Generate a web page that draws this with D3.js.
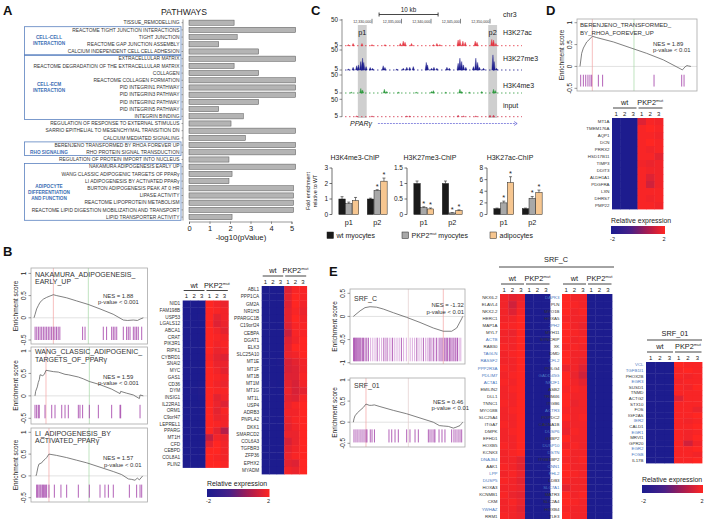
<!DOCTYPE html>
<html><head><meta charset="utf-8">
<script src="https://cdn.jsdelivr.net/npm/d3@7/dist/d3.min.js"></script>
<style>
html,body{margin:0;padding:0;background:#fff;}
svg{display:block;font-family:"Liberation Sans",Arial,Helvetica,sans-serif;}
</style></head><body>
<svg id="fig" width="709" height="519"></svg>
<script>
// ================= DATA =================
// Panel A
const pathways = ["TISSUE_REMODELLING","REACTOME TIGHT JUNCTION INTERACTIONS","TIGHT JUNCTION","REACTOME GAP JUNCTION ASSEMBLY","CALCIUM INDEPENDENT CELL CELL ADHESION","EXTRACELLULAR MATRIX","REACTOME DEGRADATION OF THE EXTRACELLULAR MATRIX","COLLAGEN","REACTOME COLLAGEN FORMATION","PID INTEGRIN1 PATHWAY","PID INTEGRIN3 PATHWAY","PID INTEGRIN2 PATHWAY","PID INTEGRIN5 PATHWAY","INTEGRIN BINDING","REGULATION OF RESPONSE TO EXTERNAL STIMULUS","SARRIO EPITHELIAL TO MESENCHYMAL TRANSITION DN","CALCIUM MEDIATED SIGNALING","BERENJENO TRANSFORMED BY RHOA FOREVER UP","RHO PROTEIN SIGNAL TRANSDUCTION","REGULATION OF PROTEIN IMPORT INTO NUCLEUS","NAKAMURA ADIPOGENESIS EARLY UP","WANG CLASSIC ADIPOGENIC TARGETS OF PPARγ","LI ADIPOGENESIS BY ACTIVATED PPARγ","BURTON ADIPOGENESIS PEAK AT 0 HR","LIPASE ACTIVITY","REACTOME LIPOPROTEIN METABOLISM","REACTOME LIPID DIGESTION MOBILIZATION AND TRANSPORT","LIPID TRANSPORTER ACTIVITY"];
const pathwayLogP = [2.2,5.2,2.35,1.45,3.4,5.2,2.2,3.4,5.2,5.2,5.2,3.4,1.45,2.65,2.05,5.2,2.75,5.2,5.2,1.95,5.2,2.1,1.95,5.1,5.1,5.1,5.1,2.1];
const pathwayGroups = [
  {first:1,last:4,lines:["CELL-CELL","INTERACTION"]},
  {first:5,last:13,lines:["CELL-ECM","INTERACTION"]},
  {first:17,last:18,lines:["RHO SIGNALING"],labelRow:18},
  {first:20,last:27,lines:["ADIPOCYTE","DIFFERENTIATION","AND FUNCTION"]}
];
const pathwayTicks = [0,1,2,3,4,5];

// Panel B GSEA
const nakES = [[0,0],[1,0.08],[2.4,0.2],[4,0.28],[5.5,0.35],[8.5,0.42],[11.5,0.46],[14.5,0.49],[17.6,0.52],[20.6,0.5],[29.7,0.45],[38.8,0.38],[49.4,0.3],[60,0.2],[72,0.08],[81.2,-0.05],[85,-0.06],[90.3,-0.05],[94,-0.06],[96.4,-0.03],[99.4,0]];
const nakHits = [1,2.5,4,5.5,7,8.5,10,11.5,13,14.5,16,17.5,19,20.5,22,23.5,44.2,46.4,63,66,70.6,72.1,73.6,75.2,81.2,84.2,85.7,87.3,90.3,91.8,93.3,94.8,97.9];
const wangES = [[0.9,0],[1.5,0.1],[3,0.2],[3.9,0.3],[4.8,0.36],[5.5,0.47],[7.9,0.45],[9.4,0.48],[10.9,0.57],[17.6,0.54],[22.1,0.53],[28.2,0.48],[31.2,0.47],[40.3,0.42],[44.8,0.38],[50.3,0.32],[60,0.25],[70.6,0.15],[78.2,0.05],[78.8,0.1],[84.2,0.06],[90.3,0.02],[95.8,-0.06],[96.4,0.02],[99.4,0]];
const wangHits = [0.9,2.4,3.9,4.8,10,16.1,19.1,25.2,28.2,31.2,40.3,41.8,44.2,50.3,58.5,70.6,78.2,78.8,96.4];
const liES = [[1.8,0],[2.4,0.05],[3.6,0.2],[4.5,0.27],[7,0.3],[8.5,0.35],[10,0.38],[11.5,0.42],[13.6,0.5],[20.6,0.47],[29.7,0.42],[38.8,0.36],[47.9,0.3],[60,0.2],[72.1,0.1],[79.7,0.03],[85.8,-0.07],[88.8,-0.08],[91.8,-0.1],[93.9,-0.05],[95.8,-0.09],[98.8,0]];
const liHits = [2.4,3.3,4.5,5.5,6.4,7.6,8.5,9.4,10.6,11.5,13.6,18.5,24.5,29.7,40.3,50.3,60,64.5,67.6,72.1,86.7,93.3,96.4,97.9];

// Panel B heatmaps
const b1Genes = ["NID1","FAM198B","USP53","LGALS12","ABCA1","CRAT","PIK3R1","RIPK1","CYBRD1","SNAI2","MYC","GAS1","CD36","DYM","INSIG1","IL22RA1","ORM1","C9orf47","LEPREL1","PPARG","MT1H","CFD","CEBPD","COL8A1","PLIN2"];
const b1Values = [
[-1.95,-1.95,-1.95,2,1.8,1.7],[-1.95,-1.95,-1.95,2,1.9,1.8],[-1.95,-1.95,-1.9,2,1.6,1.8],[-1.95,-1.95,-1.95,2,1.5,1.7],[-1.95,-1.95,-1.95,2,1.8,1.6],
[-1.95,-1.95,-1.95,2,1.9,1.8],[-1.95,-1.95,-1.95,2,1.8,1.9],[-1.95,-1.95,-1.95,2,1.7,1.8],[-1.95,-1.95,-1.95,1.9,1.6,1.5],[-1.95,-1.95,-1.95,2,1.7,1.7],
[-1.95,-1.95,-1.95,2,1.8,1.6],[-1.95,-1.95,-1.95,2,1.9,1.8],[-1.95,-1.95,-1.9,2,1.8,1.7],[-1.95,-1.9,-1.8,2,1.9,1.9],[-1.95,-1.95,-1.85,2,1.6,1.8],
[-1.95,-1.95,-1.95,2,1.7,1.5],[-1.95,-1.95,-1.95,2,1.6,1.9],[-1.95,-1.95,-1.95,2,1.7,1.8],[-1.95,-1.95,-1.95,2,1.9,1.8],[-1.95,-1.95,-1.95,2,1.6,0.9],
[-1.95,-1.95,-1.95,1.1,1.8,1.7],[-1.95,-1.95,-1.95,1.6,2,1.8],[-1.95,-1.95,-1.95,2,2,1.8],[-1.95,-1.95,-1.95,2,1.9,1.8],[-1.95,-1.95,-1.95,2,2,1.9]];
const b2Genes = ["ABL1","PPP1CA","GM2A","NR1H3","PPARGC1B","C19orf24","CEBPA","DGAT1","ELK3","SLC25A10","MT1E","MT1F","MT1B","MT1M","MT1G","MT1L","USP4","ADRB3","PNPLA2","DKK1","SMARCD2","COL6A3","TGFBR3","ZFP36","EPHX2","MYADM"];
const b2Values = [
[-1.95,-1.95,-1.95,1.5,1.9,1.9],[-1.95,-1.95,-1.95,1.6,2,1.9],[-1.95,-1.95,-1.95,1.5,2,1.8],[-1.95,-1.95,-1.95,1.6,1.9,1.7],[-1.95,-1.95,-1.95,1.6,2,1.8],
[-1.95,-1.95,-1.95,1.5,1.9,1.9],[-1.95,-1.95,-1.95,1.2,1.9,1.9],[-1.95,-1.95,-1.95,1.5,1.8,2],[-1.95,-1.95,-1.95,1.6,2,2],[-1.95,-1.95,-1.95,1.7,1.8,2],
[-1.95,-1.95,-1.9,1.4,1.6,1.8],[-1.95,-1.95,-1.95,1.4,1.5,1.8],[-1.95,-1.95,-1.95,1.5,1.5,1.9],[-1.95,-1.9,-1.95,1.6,1.4,1.8],[-1.95,-1.95,-1.95,1.7,1.4,1.6],
[-1.95,-1.95,-1.95,1.6,1.5,1.9],[-1.95,-1.95,-1.95,1.7,1.9,2],[-1.95,-1.95,-1.95,1.8,1.8,2],[-1.95,-1.95,-1.95,1.7,1.9,2],[-1.95,-1.95,-1.95,1.6,1.8,2],
[-1.95,-1.95,-1.95,1.7,1.7,2],[-1.95,-1.95,-1.95,1.4,1.7,2],[-1.95,-1.95,-1.95,1.6,1.8,2],[-1.95,-1.95,-1.95,1.7,1.9,2],[-1.95,-1.95,-1.95,1.6,1.5,2],[-1.95,-1.95,-1.95,1.8,1.7,2]];

// Panel C tracks  ([position kb on chr3, signal])
const trackNames = ["H3K27ac","H3K27me3","H3K4me3","input"];
const rulerKb = [12330,12335,12340,12345,12350];
const k27acSignal = [[12326.0,7],[12326.8,9],[12328.3,9],[12330.0,7],[12332.2,7],[12334.8,9],[12335.3,13],[12335.6,11],[12336.7,9],[12340.4,7],[12341.0,9],[12341.5,7],[12344.6,15],[12344.9,16],[12345.4,13],[12345.8,11],[12347.5,13],[12347.8,11],[12350.3,16],[12350.6,15],[12351.0,9]];
const k27me3Signal = [[12326.0,7],[12326.8,11],[12327.4,14.5],[12327.7,16.4],[12328.1,24],[12328.4,31.6],[12328.6,22],[12329.0,12.6],[12329.7,10.7],[12330.1,8.8],[12331.9,14.5],[12332.2,10.7],[12334.2,7],[12335.3,9],[12335.9,11],[12336.4,11],[12337.0,12.6],[12339.2,22],[12339.4,16.4],[12340.1,9],[12340.5,11],[12341.0,9],[12342.7,11],[12343.1,9],[12344.6,20],[12344.9,31.6],[12345.2,24],[12345.5,16.4],[12345.9,11],[12347.2,12.6],[12347.6,31.6],[12347.9,22],[12348.2,11],[12348.9,9],[12350.5,39],[12350.7,24],[12351.1,9]];
const k4me3Signal = [[12326.5,7],[12328.1,16.4],[12328.4,12.6],[12332.1,14.5],[12332.5,9],[12334.5,7],[12337.5,7],[12340.1,9],[12340.4,11],[12342.5,7],[12344.9,14.5],[12345.2,9],[12346.5,7],[12348.6,9],[12350.6,14.5],[12350.9,11]];
const inputSignal = [[12327.4,7],[12330.0,7],[12335.9,7],[12336.4,7],[12344.6,9],[12345.5,7],[12347.6,7],[12350.0,9],[12350.6,9]];
const peakRegions = [{name:"p1",from:12327.6,to:12329.1},{name:"p2",from:12349.7,to:12351.2}];
const geneStartKb = 12331.0, geneEndKb = 12354.6;

// Panel C bar charts
const chipSites = ["p1","p2"];
const cellTypes = ["wt myocytes","PKP2mut myocytes","adipocytes"];
const chipTitles = ["H3K4me3-ChIP","H3K27me3-ChIP","H3K27ac-ChIP"];
const chipMeans = [ [[1.0,0.7,0.9],[1.0,1.55,2.15]], [[1.0,0.22,0.18],[1.0,0.05,0.13]], [[1.0,2.0,5.5],[1.0,2.8,3.8]] ];
const chipErrs  = [ [[0.15,0.1,0.2],[0.05,0.05,0.2]], [[0.08,0.03,0.03],[0.08,0.01,0.02]], [[0.1,0.3,1.0],[0.1,0.3,0.4]] ];
const chipStars = [ [[0,0,0],[0,1,1]], [[0,1,1],[0,1,1]], [[0,1,1],[0,1,1]] ];
const chipTicks = [[0,1,2,3],[0,0.5,1,1.5],[0,2,4,6,8]];

// Panel D
const berES = [[0,0],[1.5,0.3],[3,0.42],[6,0.56],[8.9,0.63],[11,0.69],[14.9,0.66],[29.8,0.56],[44.6,0.43],[59.5,0.3],[74.4,0.15],[89.3,-0.05],[91.4,-0.08],[93.8,-0.01],[95.5,0.02],[97,0.01],[99,0]];
const berHits = [0.6,3,5.1,7.1,8.9,10.4,16.4,20.2,66.1,90.8,92.9];
const dGenes = ["MT1A","TMEM176A","AQP1","DCN","PRRX2","HSD17B11","TIMP3","DDIT3","ALDH1A1","PDGFRA","LXN","DHRS7","PMP22"];
const dValues = [
[-1.95,-1.95,-1.95,1.5,1.9,1.8],[-1.95,-1.95,-1.95,1.9,2,1.9],[-1.95,-1.95,-1.95,1.9,1.9,1.8],[-1.95,-1.95,-1.95,1.9,2,1.9],[-1.95,-1.95,-1.95,1.9,1.8,1.9],
[-1.95,-1.95,-1.95,1.9,1.9,1.6],[-1.95,-1.95,-1.95,1.8,1.7,1.8],[-1.95,-1.95,-1.95,1.9,1.8,1.8],[-1.95,-1.95,-1.95,1.9,1.5,1.8],[-1.95,-1.95,-1.95,1.9,1.3,1.8],
[-1.95,-1.95,-1.95,1.9,1.9,1.9],[-1.95,-1.95,-1.95,1.9,1.8,1.9],[-1.95,-1.95,-1.95,1.9,1.9,1.8]];

// Panel E
const srfcES = [[0.3,0],[6.4,0.12],[10.9,0.19],[15.5,0.21],[21.5,0.2],[27.5,0.16],[36.7,0.08],[48.8,-0.02],[60.9,-0.13],[73,-0.25],[82.1,-0.32],[89.7,-0.32],[94.3,-0.25],[98.8,-0.05],[99.7,0]];
const srfcHits = [0.5,1.3,2,2.8,3.6,4.5,5.4,6.3,7.2,8.5,9.5,11,12.5,14,22,28,31,36,44,58,64,70,73,76,79,81,83,84.5,86,87.5,89,91,93,95];
const srfcLightHits = [16,18,20,24,26,29.5,33,34.5,38,40,42,46,48.5,52,54,56,60,62,66,67.5,69,71.5,74.5,77.5,80,85,88,90,92,94,96.5,98];
const srf01ES = [[0.3,0],[0.9,0.08],[1.8,0.15],[3.9,0.22],[6.4,0.28],[9.4,0.35],[11.8,0.43],[14.8,0.4],[17,0.4],[19.4,0.41],[24.5,0.37],[36.7,0.28],[48.8,0.2],[60.9,0.1],[73,0],[78.5,-0.08],[82.1,-0.09],[86.7,-0.1],[91.2,-0.14],[93.6,-0.12],[97.3,-0.08],[98.8,-0.03],[99.7,0]];
const srf01Hits = [0.9,2.7,4.5,6.4,8.2,10,11.8,12.7,15.7,17.3,19.5,32.7,35.2,38.2,41.2,48.8,51.8,56.4,59.4,68.5,70,71.8,73.6,74.5,78.2,80.9,83.6,89.7,91.8,93.6,95.5,97.3,98.8];
const e1Genes = ["NKX6-2","ELAVL4","NKX2-2","HERC1","MAP1A","MYL7","ACTB","RAB30","TAGLN","RASSF2","PPP2R3A","PDLIM7","ACTA1","EMILIN2","DLL1","TNNC1","MYO18B","SLC25A4","ITGA7","DMPK","EFHD1","HOXB5","KCNK3","DNAJB4","AAK1","LPP","DUSP5","HOXA3","KCNMB1","CKM","YWHAZ","RRM1"];
const e1Blue = ["ACTB","TAGLN","RASSF2","PPP2R3A","PDLIM7","ACTA1","DNAJB4","LPP","DUSP5","YWHAZ"];
const e1Values = [
[1.8,1.6,1.7,-1.95,-1.95,-1.95],[1.8,1.3,1.8,-1.95,-1.95,-1.95],[1.8,1.5,1.9,-1.95,-1.95,-1.95],[1.8,1.8,2,-1.95,-1.95,-1.95],[1.9,1.9,2,-1.95,-1.95,-1.95],
[1.8,1.7,2,-1.95,-1.95,-1.95],[1.8,1.8,2,-1.95,-1.95,-1.95],[1.9,1.8,2,-1.95,-1.95,-1.95],[1.8,1.9,2,-1.95,-1.95,-1.95],[1.8,1.8,2,-1.95,-1.95,-1.95],
[1.9,1.8,2,-1.95,-1.95,-1.95],[1.8,1.9,2,-1.95,-1.95,-1.95],[1.9,1.8,2,-1.95,-1.95,-1.95],[1.8,1.9,2,-1.95,-1.95,-1.95],[1.8,1.8,2,-1.95,-1.95,-1.95],
[1.9,1.8,2,-1.95,-1.95,-1.95],[1.8,1.9,2,-1.95,-1.95,-1.95],[1.8,1.8,2,-1.95,-1.95,-1.95],[1.9,1.8,2,-1.95,-1.95,-1.95],[1.8,1.9,2,-1.95,-1.95,-1.95],
[1.8,1.8,2,-1.95,-1.95,-1.95],[1.9,1.8,2,-1.95,-1.95,-1.95],[1.8,1.9,2,-1.95,-1.95,-1.95],[1.8,1.8,1.6,-1.95,-1.95,-1.95],[1.9,1.8,1.6,-1.95,-1.95,-1.95],
[1.8,1.9,1.7,-1.95,-1.95,-1.95],[1.9,1.8,1.6,-1.95,-1.95,-1.95],[1.8,1.8,1.7,-1.95,-1.95,-1.95],[1.9,1.7,1.6,-1.95,-1.95,-1.95],[1.8,1.9,1.7,-1.95,-1.95,-1.95],
[1.8,1.8,1.6,-1.95,-1.95,-1.95],[1.9,1.8,1.7,-1.95,-1.95,-1.95]];
const e2Genes = ["DAPK3","PLN","MYO1B","HOXA5","JPH2","MYH11","SYNCRIP","XK","DMD","CFL2","POLG4","GADD45G","NR2F1","ASB2","TRIM46","ITGB6","ACTR3","POPDC2","CACNA1B","DUSP6","G3BP2","DUSP10","DSTN","ITGB1BP2","CNN1","FHL2","LDB3","SLC7A1","MATR3","SLC2A4","HOXB4","TLE3"];
const e2Blue = ["DAPK3","JPH2","CFL2","GADD45G","NR2F1","ACTR3","DUSP6","DUSP10","DSTN","CNN1","FHL2","SLC7A1"];
const e2Values = [
[2,1.8,1.8,-1.95,-1.95,-1.95],[2,1.9,1.8,-1.95,-1.95,-1.95],[2,1.8,1.9,-1.95,-1.95,-1.95],[1.9,1.8,1.8,-1.95,-1.95,-1.95],[2,1.8,1.7,-1.95,-1.95,-1.95],
[2,1.9,1.8,-1.95,-1.95,-1.95],[2,1.8,1.9,-1.95,-1.95,-1.95],[1.9,1.9,1.8,-1.95,-1.95,-1.95],[2,1.8,1.8,-1.95,-1.95,-1.95],[2,1.8,1.7,-1.95,-1.95,-1.95],
[1.7,1.8,1.5,-1.95,-1.95,-1.95],[2,1.7,1.3,-1.95,-1.95,-1.95],[2,1.8,1.6,-1.95,-1.95,-1.95],[1.9,1.9,1.8,-1.95,-1.95,-1.95],[2,1.8,1.8,-1.95,-1.95,-1.95],
[2,1.7,1.8,-1.95,-1.95,-1.95],[1.9,1.8,1.8,-1.95,-1.95,-1.95],[2,1.8,1.9,-1.95,-1.95,-1.95],[1.8,1.8,1.8,-1.95,-1.95,-1.95],[1.7,1.9,1.8,-1.95,-1.95,-1.95],
[2,1.8,1.8,-1.95,-1.95,-1.95],[1.8,1.9,1.8,-1.95,-1.95,-1.95],[2,1.8,1.8,-1.95,-1.95,-1.95],[1.9,1.8,1.9,-1.95,-1.95,-1.95],[2,1.8,1.8,-1.95,-1.95,-1.95],
[2,1.9,1.8,-1.95,-1.95,-1.95],[1.9,1.8,1.8,-1.95,-1.95,-1.95],[1.6,1.8,1.8,-1.95,-1.95,-1.95],[2,1.8,1.9,-1.95,-1.95,-1.95],[2,1.9,1.8,-1.95,-1.95,-1.95],
[1.9,1.8,1.8,-1.95,-1.95,-1.95],[2,1.8,1.8,-1.95,-1.95,-1.95]];
const e3Genes = ["VCL","TGFB1I1","PHOX2B","EGR3","SUSD1","TNMD","ACTG2","STX10","FOS","IGF2AS","IER2","CALD1","EGR1","MRVI1","GPR20","EGR2","FOSB","IL17B"];
const e3Blue = ["VCL","TGFB1I1","EGR3","IER2","EGR1","EGR2","FOSB"];
const e3Values = [
[-1.95,-1.95,-1.95,2,1.9,1.9],[-1.95,-1.95,-1.95,1.9,2,1.9],[-1.95,-1.95,-1.95,1.9,1.8,1.9],[-1.95,-1.95,-1.95,1.8,1.9,1.9],[-1.95,-1.95,-1.95,1.9,1.8,2],
[-1.95,-1.95,-1.95,1.9,1.9,1.9],[-1.95,-1.95,-1.95,1.5,1.9,1.9],[-1.95,-1.95,-1.95,1.9,1.9,1.9],[-1.95,-1.95,-1.95,1.9,1.9,1.7],[-1.95,-1.95,-1.95,1.9,1.9,2],
[-1.95,-1.95,-1.95,1.9,1.8,1.9],[-1.95,-1.95,-1.95,1.9,1.9,2],[-1.95,-1.95,-1.95,1.9,1.8,1.9],[-1.95,-1.95,-1.95,1.9,1.8,2],[-1.95,-1.95,-1.95,1.9,1.3,1.8],
[-1.95,-1.95,-1.95,1.9,1.9,2],[-1.95,-1.95,-1.95,1.9,1.9,1.8],[-1.95,-1.95,-1.95,1.9,1.9,2]];

// ================= DRAWING =================
const svg = d3.select("#fig");
const INK = "#222";
const heatColor = d3.scaleLinear().domain([-2,-0.6,0.7,2]).range(["#1c1c8e","#44208a","#a81c50","#ff2622"]).clamp(true);

function txt(x,y,s,o={}){
  const t = svg.append("text").attr("x",x).attr("y",y).text(s)
    .attr("font-size",o.size||7).attr("fill",o.fill||INK);
  if(o.anchor) t.attr("text-anchor",o.anchor);
  if(o.weight) t.attr("font-weight",o.weight);
  if(o.style) t.attr("font-style",o.style);
  if(o.rotate!=null) t.attr("transform",`rotate(${o.rotate},${x},${y})`);
  return t;
}
function line(x1,y1,x2,y2,stroke,w,dash){
  const l = svg.append("line").attr("x1",x1).attr("y1",y1).attr("x2",x2).attr("y2",y2)
    .attr("stroke",stroke||INK).attr("stroke-width",w||0.7);
  if(dash) l.attr("stroke-dasharray",dash);
  return l;
}

// Panel letters
[["A",3,15],["B",3,256],["C",311,15],["D",546,15],["E",329,276]].forEach(d=>txt(d[1],d[2],d[0],{size:13,weight:"bold",fill:"#111"}));

// ---------- Panel A ----------
(function(){
  const yA = d3.scaleBand().domain(pathways).range([19.1,220.7]).paddingInner(0.28).paddingOuter(0.14);
  const xA = d3.scaleLinear().domain([0,5]).range([189,291.5]);
  const step = yA.step();
  txt(184,15,"PATHWAYS",{size:8.6,anchor:"middle"});
  pathwayGroups.forEach(gp=>{
    const y0 = 19.1 + gp.first*step + 0.4, y1 = 19.1 + (gp.last+1)*step - 0.4;
    svg.append("rect").attr("x",24.5).attr("y",y0).attr("width",156.5).attr("height",y1-y0)
      .attr("fill","none").attr("stroke","#5b82c0").attr("stroke-width",0.8);
    const cy = gp.labelRow!=null ? yA(pathways[gp.labelRow])+yA.bandwidth()/2 : (y0+y1)/2, n = gp.lines.length;
    gp.lines.forEach((s,i)=>txt(49,cy+(i-(n-1)/2)*6+1.7,s,{size:4.7,weight:"bold",fill:"#3d6eb4",anchor:"middle"}));
  });
  pathways.forEach((p,i)=>{
    const cy = yA(p)+yA.bandwidth()/2;
    txt(179.5,cy+1.7,p,{size:4.9,anchor:"end",fill:"#333"});
    line(181.5,cy,183,cy,"#555",0.5);
  });
  line(183,19.5,183,220.5,"#555",0.6);
  svg.append("g").selectAll("rect").data(pathways).join("rect")
    .attr("x",xA(0)).attr("y",d=>yA(d)).attr("height",yA.bandwidth())
    .attr("width",(d,i)=>xA(pathwayLogP[i])-xA(0))
    .attr("fill","#b4b4b4").attr("stroke","#555").attr("stroke-width",0.5);
  const ax = svg.append("g").attr("transform","translate(0,221.5)")
    .call(d3.axisBottom(xA).tickValues(pathwayTicks).tickFormat(d3.format("d")).tickSize(2.5).tickPadding(2));
  ax.select(".domain").attr("stroke","#555").attr("stroke-width",0.6);
  ax.selectAll(".tick line").attr("stroke","#555").attr("stroke-width",0.6);
  ax.selectAll("text").attr("font-size",7.5).attr("fill",INK).attr("font-family",null);
  txt(241,239.5,"-log10(pValue)",{size:7.8,anchor:"middle"});
})();

// ---------- GSEA plot helper ----------
function gsea(o){
  const g = svg.append("g");
  const x = d3.scaleLinear().domain([0,100]).range(o.xr);
  const y = d3.scaleLinear().domain(o.yd).range(o.yr);
  g.append("line").attr("x1",o.x0).attr("x2",o.x1).attr("y1",y(0)).attr("y2",y(0)).attr("stroke","#cfcfcf").attr("stroke-width",0.6);
  g.append("line").attr("x1",x(o.red)).attr("x2",x(o.red)).attr("y1",o.y0).attr("y2",o.y1).attr("stroke","#f3a3a3").attr("stroke-width",0.7);
  g.append("line").attr("x1",x(o.mid)).attr("x2",x(o.mid)).attr("y1",o.y0).attr("y2",o.y1).attr("stroke",o.midColor).attr("stroke-width",0.7);
  if(o.light){
    g.append("g").selectAll("line").data(o.light).join("line")
      .attr("x1",d=>x(d)).attr("x2",d=>x(d)).attr("y1",y(o.ht)).attr("y2",y(o.hb))
      .attr("stroke","#d9a6dc").attr("stroke-width",0.9);
  }
  g.append("g").selectAll("line").data(o.hits).join("line")
    .attr("x1",d=>x(d)).attr("x2",d=>x(d)).attr("y1",y(o.ht)).attr("y2",y(o.hb))
    .attr("stroke","#a03aa6").attr("stroke-width",0.8);
  g.append("path").datum(o.es).attr("d",d3.line().x(d=>x(d[0])).y(d=>y(d[1])))
    .attr("fill","none").attr("stroke","#555").attr("stroke-width",0.75);
  g.append("rect").attr("x",o.x0).attr("y",o.y0).attr("width",o.x1-o.x0).attr("height",o.y1-o.y0)
    .attr("fill","none").attr("stroke","#a8a8a8").attr("stroke-width",0.8);
  o.ticks.forEach(t=>{
    line(o.x0-2.5,y(t),o.x0,y(t),"#555",0.6);
    txt(o.x0-5,y(t),String(t),{size:6.3,anchor:"middle",rotate:-90});
  });
  txt(o.x0-13,(o.y0+o.y1)/2,"Enrichment score",{size:6.5,anchor:"middle",rotate:-90});
  o.title.forEach((s,i)=>txt(o.tx,o.ty+i*7.6,s,{size:o.tsize||7,fill:"#333"}));
  txt(o.nx,o.ny,o.nes,{size:5.9,fill:"#333"});
  txt(o.px,o.py,o.pv,{size:5.9,fill:"#333"});
}

// ---------- Heatmap helper ----------
function heatmap(o){
  const g = svg.append("g");
  const cols = d3.range(6);
  const x = d3.scaleBand().domain(cols).range([o.x0,o.x1]);
  const y = d3.scaleBand().domain(o.genes).range([o.y0,o.y1]);
  o.genes.forEach((gene,i)=>{
    g.append("g").selectAll("rect").data(o.values[i]).join("rect")
      .attr("x",(d,j)=>x(j)).attr("y",y(gene)).attr("width",x.bandwidth()+0.4).attr("height",y.bandwidth()+0.4)
      .attr("fill",d=>heatColor(d));
    const blue = o.blue && o.blue.includes(gene);
    txt(o.x0-2.5,y(gene)+y.bandwidth()/2+1.5,gene,{size:o.fs,anchor:"end",fill:blue?"#4a78c0":"#333"});
  });
  const bw = x.bandwidth();
  const wtC = (x(0)+x(2)+bw)/2, pkC = (x(3)+x(5)+bw)/2;
  txt(wtC,o.y0-13,"wt",{size:7.3,anchor:"middle"});
  const t = txt(pkC,o.y0-13,"PKP2",{size:7.3,anchor:"middle"});
  t.append("tspan").attr("font-size",4.3).attr("dy",-3).text("mut");
  line(x(0)+1,o.y0-10,x(2)+bw-1,o.y0-10,"#444",1);
  line(x(3)+1,o.y0-10,x(5)+bw-0.5,o.y0-10,"#444",1);
  ["1","2","3","1","2","3"].forEach((s,j)=>txt(x(j)+bw/2,o.y0-2.5,s,{size:6,anchor:"middle"}));
}
let gradN = 0;
function colorbar(x0,x1,y0,h,labY){
  const id = "grad"+(gradN++);
  const grad = svg.append("defs").append("linearGradient").attr("id",id);
  d3.range(-2,2.01,0.5).forEach(v=>grad.append("stop").attr("offset",((v+2)/4*100)+"%").attr("stop-color",heatColor(v)));
  txt(x0,y0-2.8,"Relative expression",{size:6.9});
  svg.append("rect").attr("x",x0).attr("y",y0).attr("width",x1-x0).attr("height",h).attr("fill",`url(#${id})`);
  txt(x0+1.5,labY,"-2",{size:5.5,anchor:"middle"});
  txt(x1-1,labY,"2",{size:5.5,anchor:"middle"});
}

// ---------- Panel B ----------
const bBox = {x0:31,x1:147.5,xr:[34,144],yd:[-0.5,1],ticks:[1,0.5,0,-0.5],midColor:"#a6d8a6",tx:35,ht:-0.2,hb:-0.5};
gsea(Object.assign({},bBox,{y0:268,y1:344,yr:[340,273.4],es:nakES,hits:nakHits,red:17.6,mid:49.4,
  title:["NAKAMURA_ADIPOGENESIS_","EARLY_UP"],ty:276.5,nes:"NES = 1.88",nx:103,ny:297.5,pv:"p-value < 0.001",px:98,py:304}));
gsea(Object.assign({},bBox,{y0:347,y1:424,yr:[418.3,351],es:wangES,hits:wangHits,red:10.9,mid:50.3,
  title:["WANG_CLASSIC_ADIPOGENIC_","TARGETS_OF_PPARγ"],ty:354,nes:"NES = 1.59",nx:103,ny:378.5,pv:"p-value < 0.001",px:98,py:385}));
gsea(Object.assign({},bBox,{y0:428,y1:502,yr:[497.7,432.3],es:liES,hits:liHits,red:13.6,mid:50,
  title:["LI_ADIPOGENESIS_BY","ACTIVATED_PPARγ"],ty:435.5,nes:"NES = 1.57",nx:103,ny:460,pv:"p-value < 0.01",px:104,py:466.5}));
heatmap({genes:b1Genes,values:b1Values,x0:182.7,x1:228.3,y0:300.5,y1:467.5,fs:4.7});
heatmap({genes:b2Genes,values:b2Values,x0:261.7,x1:306.7,y0:286,y1:474,fs:4.7});
colorbar(207,269.5,489,8,503);

// ---------- Panel C : tracks ----------
(function(){
  const gx = d3.scaleLinear().domain([12330,12340]).range([372,431]);
  const trackColors = ["#e3303c","#1e1e8e","#2e9a3e","#d03048"];
  const trackSignals = [k27acSignal,k27me3Signal,k4me3Signal,inputSignal];
  const trackRanges = [[45.7,20],[70,50],[93,75],[116.7,99.3]];
  const trackLabelY = [35,61,87.5,107.5];
  peakRegions.forEach(r=>{
    svg.append("rect").attr("x",gx(r.from)).attr("y",25).attr("width",gx(r.to)-gx(r.from)).attr("height",93)
      .attr("fill","#cfcfcf");
  });
  txt(gx(12328.35),35,"p1",{size:7.3,anchor:"middle"});
  txt(gx(12350.45),35,"p2",{size:7.3,anchor:"middle"});
  txt(408.5,11.5,"10 kb",{size:6.3,anchor:"middle"});
  line(gx(12331.2),14.5,gx(12341.2),14.5,"#333",0.9);
  line(gx(12331.2),12.5,gx(12331.2),16.5,"#333",0.9);
  line(gx(12341.2),12.5,gx(12341.2),16.5,"#333",0.9);
  txt(503,17,"chr3",{size:7});
  rulerKb.forEach(k=>{
    txt(gx(k)-0.8,23,d3.format(",")(k*1000),{size:3.6,anchor:"end",fill:"#333"});
    line(gx(k),18.8,gx(k),23.5,"#333",0.6);
  });
  line(342,19,342,117,"#444",0.6);
  trackRanges.forEach((r,i)=>{
    const ys = d3.scaleLinear().domain([5,50]).range(r);
    line(339.5,ys(50),342,ys(50),"#444",0.6);
    line(339.5,ys(5),342,ys(5),"#444",0.6);
    txt(338,ys(50)+2.2,"50",{size:6.3,anchor:"end"});
    txt(338,ys(5)+1,"5",{size:6.3,anchor:"end"});
    line(345,ys(5),522,ys(5),trackColors[i],0.8,"1.5,2.5");
    svg.append("g").selectAll("path").data(trackSignals[i]).join("path")
      .attr("d",d=>`M${gx(d[0])-1.1},${ys(5)}L${gx(d[0])},${ys(d[1])}L${gx(d[0])+1.1},${ys(5)}Z`)
      .attr("fill",trackColors[i]).attr("stroke",trackColors[i]).attr("stroke-width",0.4);
    txt(503,trackLabelY[i],trackNames[i],{size:7});
  });
  txt(350,126,"PPARγ",{size:7,style:"italic"});
  line(gx(geneStartKb),123.5,gx(geneEndKb),123.5,"#7070d8",0.8,"2,1");
  svg.append("path").attr("d",`M${gx(geneEndKb)-3},121.5L${gx(geneEndKb)},123.5L${gx(geneEndKb)-3},125.5`)
    .attr("fill","none").attr("stroke","#7070d8").attr("stroke-width",0.8);
})();

// ---------- Panel C : bar charts ----------
(function(){
  const fills = ["#1a1a1a","#a8a8a8","#f6c690"];
  const axisX = [332,407,487];
  const tops = [3,1.5,8];
  chipTitles.forEach((title,c)=>{
    const y = d3.scaleLinear().domain([0,tops[c]]).range([214.5,168]);
    const xg = d3.scaleBand().domain(chipSites).range([axisX[c]+4,axisX[c]+58]).paddingInner(0.3).paddingOuter(0.1);
    const xs = d3.scaleBand().domain(d3.range(3)).range([0,xg.bandwidth()]).paddingInner(0.05);
    txt(axisX[c]+23,160,title,{size:7,anchor:"middle"});
    line(axisX[c],y(0),axisX[c],y(tops[c]),"#333",0.7);
    chipTicks[c].forEach(t=>{
      line(axisX[c]-2.5,y(t),axisX[c],y(t),"#333",0.7);
      txt(axisX[c]-4,y(t)+2.3,String(t),{size:6.5,anchor:"end"});
    });
    chipSites.forEach((site,s)=>{
      const base = xg(site);
      txt(base+xg.bandwidth()/2,224.5,site,{size:7.3,anchor:"middle"});
      chipMeans[c][s].forEach((m,k)=>{
        const bx = base+xs(k), bw = xs.bandwidth(), cx = bx+bw/2;
        svg.append("rect").attr("x",bx).attr("y",y(m)).attr("width",bw).attr("height",y(0)-y(m))
          .attr("fill",fills[k]).attr("stroke","#222").attr("stroke-width",0.5);
        const e = chipErrs[c][s][k];
        line(cx,y(m),cx,y(m+e),"#222",0.6);
        line(cx-1.5,y(m+e),cx+1.5,y(m+e),"#222",0.6);
        if(chipStars[c][s][k]) txt(cx,y(m+e)-1,"*",{size:7.5,anchor:"middle"});
      });
    });
  });
  txt(310,191,"Fold enrichment",{size:5.3,anchor:"middle",rotate:-90});
  txt(316.5,191,"relative to WT",{size:5.3,anchor:"middle",rotate:-90});
  const lx = [327,402,490];
  cellTypes.forEach((ct,k)=>{
    svg.append("rect").attr("x",lx[k]).attr("y",232).attr("width",6.5).attr("height",6.5)
      .attr("fill",fills[k]).attr("stroke","#222").attr("stroke-width",0.5);
    if(k===1){
      const t = txt(lx[k]+9.5,238.3,"PKP2",{size:7});
      t.append("tspan").attr("font-size",4.2).attr("dy",-3).text("mut");
      t.append("tspan").attr("dy",3).text(" myocytes");
    } else txt(lx[k]+9.5,238.3,ct,{size:7});
  });
})();

// ---------- Panel D ----------
gsea({x0:577,x1:697,y0:19,y1:91,xr:[580,692],yd:[-0.5,1],yr:[88.3,22.7],ticks:[1,0.5,0,-0.5],
  es:berES,hits:berHits,red:11,mid:48.2,midColor:"#a6d8a6",ht:-0.19,hb:-0.46,
  title:["BERENJENO_TRANSFORMED_","BY_RHOA_FOREVER_UP"],tx:580,ty:27,tsize:6.1,
  nes:"NES = 1.89",nx:653,ny:45.5,pv:"p-value < 0.01",px:653,py:52});
heatmap({genes:dGenes,values:dValues,x0:612,x1:663,y0:118,y1:209,fs:4.4});
colorbar(611,665,226,8,240.5);

// ---------- Panel E ----------
gsea({x0:350,x1:465,y0:289,y1:364,xr:[353,463],yd:[-1,0.5],yr:[362.7,293.3],ticks:[0.5,0,-0.5,-1],
  es:srfcES,hits:srfcHits,light:srfcLightHits,red:82.1,mid:50.3,midColor:"#e2cccc",ht:-0.46,hb:-0.97,
  title:["SRF_C"],tx:354,ty:300.5,nes:"NES = -1.32",nx:431.5,ny:307,pv:"p-value < 0.01",px:426.5,py:313.5});
gsea({x0:350,x1:465,y0:378,y1:447,xr:[353,463],yd:[-0.5,1],yr:[443.3,380],ticks:[1,0.5,0,-0.5],
  es:srf01ES,hits:srf01Hits,red:11.8,mid:50.3,midColor:"#e2cccc",ht:-0.17,hb:-0.48,
  title:["SRF_01"],tx:354,ty:387.5,nes:"NES = 0.46",nx:433,ny:403.5,pv:"p-value < 0.01",px:431.5,py:410});
txt(556,262,"SRF_C",{size:7.3,anchor:"middle"});
line(499,267,614,267,"#333",0.9);
heatmap({genes:e1Genes,values:e1Values,blue:e1Blue,x0:500,x1:550,y0:294,y1:519.6,fs:4.4});
heatmap({genes:e2Genes,values:e2Values,blue:e2Blue,x0:562,x1:612,y0:294,y1:519.6,fs:4.4});
txt(675,335.5,"SRF_01",{size:7.3,anchor:"middle"});
line(647,340,702,340,"#333",0.9);
heatmap({genes:e3Genes,values:e3Values,blue:e3Blue,x0:646,x1:702,y0:362,y1:463,fs:4.4});
colorbar(642,703,485,8,503);
</script>
</body></html>
